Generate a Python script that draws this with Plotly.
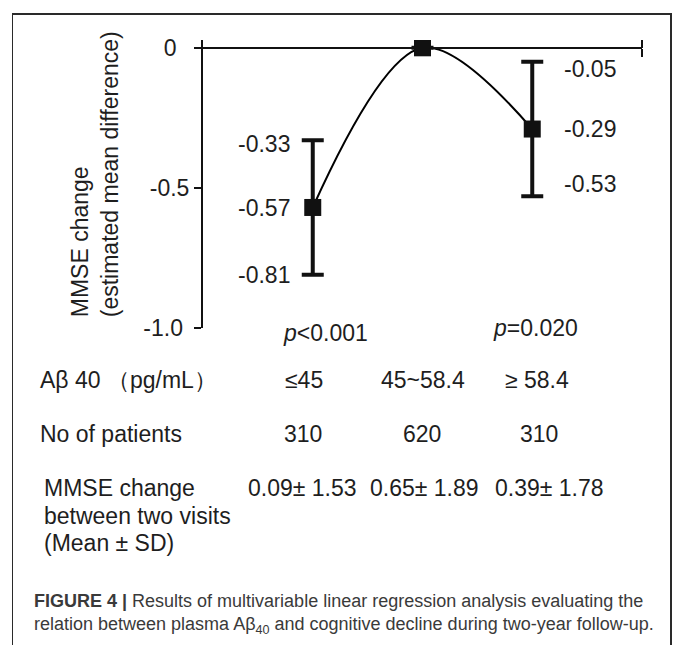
import plotly.graph_objects as go

# ---------------- data ----------------
positions = [1, 2, 3]
estimates = [-0.57, 0.0, -0.29]
ci_low = [-0.81, None, -0.53]
ci_high = [-0.33, None, -0.05]

groups = ["≤45", "45~58.4", "≥ 58.4"]
n_patients = [310, 620, 310]
mmse_mean = [0.09, 0.65, 0.39]
mmse_sd = [1.53, 1.89, 1.78]
p_values = ["<0.001", None, "=0.020"]

ytick_vals = [0, -0.5, -1.0]
ytick_text = ["0\u00a0\u00a0", "-0.5", "-1.0\u00a0"]

W, H = 673, 658
FONT = "Liberation Sans, Arial, sans-serif"
FS = 23
TXT = "#1e1e1e"


def px(x):
    return x / W


def py(y):
    return 1 - y / H


err_plus = [None if h is None else round(h - e, 4) for h, e in zip(ci_high, estimates)]
err_minus = [None if l is None else round(e - l, 4) for l, e in zip(ci_low, estimates)]

fig = go.Figure()

fig.add_trace(go.Scatter(
    x=positions, y=estimates,
    mode="lines+markers",
    line=dict(color="black", width=2, shape="spline", smoothing=1),
    marker=dict(symbol="square", size=17, color="#111111"),
    error_y=dict(type="data", symmetric=False, array=err_plus, arrayminus=err_minus,
                 color="#111111", thickness=4, width=11),
    showlegend=False, hoverinfo="skip",
))

# frame subplot (draws the outer figure border)
fig.add_trace(go.Scatter(x=[None], y=[None], xaxis="x3", yaxis="y3",
                         showlegend=False, hoverinfo="skip"))
# dummy trace to activate xaxis2
fig.add_trace(go.Scatter(x=[None], y=[None], xaxis="x2", yaxis="y",
                         showlegend=False, hoverinfo="skip"))

x_axis_pos = py(44)

fig.update_layout(
    width=W, height=H,
    margin=dict(l=0, r=0, t=0, b=0),
    paper_bgcolor="white", plot_bgcolor="rgba(0,0,0,0)",
    font=dict(family=FONT, size=FS, color=TXT),
    xaxis=dict(
        domain=[px(203), px(642)], range=[0, 4],
        anchor="free", position=x_axis_pos, side="bottom",
        showline=True, linecolor="#111111", linewidth=2,
        showgrid=False, zeroline=False,
        tickmode="array", tickvals=[4], ticks="outside", ticklen=8,
        tickwidth=2, tickcolor="#111111", showticklabels=False,
    ),
    xaxis2=dict(
        overlaying="x", matches="x", range=[0, 4],
        anchor="free", position=x_axis_pos, side="top",
        showline=False, showgrid=False, zeroline=False,
        tickmode="array", tickvals=[4], ticks="outside", ticklen=8,
        tickwidth=2, tickcolor="#111111", showticklabels=False,
    ),
    yaxis=dict(
        domain=[py(332), py(36)], range=[-1.0, 0.0278],
        showline=True, linecolor="#111111", linewidth=2,
        showgrid=False, zeroline=False,
        tickmode="array", tickvals=ytick_vals, ticktext=ytick_text,
        ticks="outside", ticklen=7, tickwidth=2, tickcolor="#111111",
        tickfont=dict(size=FS, color=TXT),
    ),
    xaxis3=dict(
        domain=[px(13), px(670)], anchor="y3", range=[0, 1], side="top",
        showline=True, mirror=False, linecolor="#2a2a2a", linewidth=1.5,
        showgrid=False, zeroline=False, ticks="", showticklabels=False,
    ),
    yaxis3=dict(
        domain=[0, py(10)], anchor="x3", range=[0, 1],
        showline=True, mirror=True, linecolor="#2a2a2a", linewidth=1.5,
        showgrid=False, zeroline=False, ticks="", showticklabels=False,
    ),
)

ann = []


def label(text, x, y, xanchor="center", size=FS, color=TXT, **kw):
    d = dict(text=text, xref="paper", yref="paper", x=px(x), y=py(y),
             xanchor=xanchor, yanchor="middle", showarrow=False,
             font=dict(size=size, color=color))
    d.update(kw)
    ann.append(d)


# value labels beside the two compared groups (anchored to the data)
left_vals = [ci_high[0], estimates[0], ci_low[0]]
right_vals = [ci_high[2], estimates[2], ci_low[2]]
left_shift = [-4, -1, 0]
right_shift = [-7, 0, 12]
for v, ys in zip(left_vals, left_shift):
    ann.append(dict(text=f"{v:.2f}", xref="x", yref="y", x=positions[0], y=v,
                    xanchor="right", yanchor="middle", xshift=-21, yshift=ys,
                    showarrow=False, font=dict(size=FS, color=TXT)))
for v, ys in zip(right_vals, right_shift):
    ann.append(dict(text=f"{v:.2f}", xref="x", yref="y", x=positions[2], y=v,
                    xanchor="left", yanchor="middle", xshift=30, yshift=ys,
                    showarrow=False, font=dict(size=FS, color=TXT)))

# y-axis title
label("MMSE change<br>(estimated mean difference)", 95, 174,
      textangle=-90, align="left")

# p-values
p_x = [325, None, 535]
p_y = [337, None, 332]
for pv, xx, yy in zip(p_values, p_x, p_y):
    if pv is None:
        continue
    label(f"<i>p</i>{pv}", xx, yy)

# row labels
label("Aβ 40 （pg/mL）", 38, 386, xanchor="left")
label("No of patients", 38, 441, xanchor="left")
label("MMSE change", 42, 497, xanchor="left")
label("between two visits", 42, 525, xanchor="left")
label("(Mean ± SD)", 42, 553, xanchor="left")

col_grp = [304, 423, 537]
col_n = [303, 422, 539]
col_m = [302, 424, 549]
for g, xx in zip(groups, col_grp):
    label(g, xx, 386)
for n, xx in zip(n_patients, col_n):
    label(str(n), xx, 441)
for m, s, xx in zip(mmse_mean, mmse_sd, col_m):
    label(f"{m:.2f}± {s:.2f}", xx, 497)

# caption
label("<b>FIGURE 4 |</b> Results of multivariable linear regression analysis evaluating the",
      32, 613, xanchor="left", size=18, color="#3a3a3a")
label("relation between plasma Aβ<sub>40</sub> and cognitive decline during two-year follow-up.",
      32, 638, xanchor="left", size=18, color="#3a3a3a")

fig.update_layout(annotations=ann)

fig.write_html("out.html",
               config={"displayModeBar": False, "staticPlot": True},
               post_script="document.body.style.margin='0px';document.body.style.overflow='hidden';")
